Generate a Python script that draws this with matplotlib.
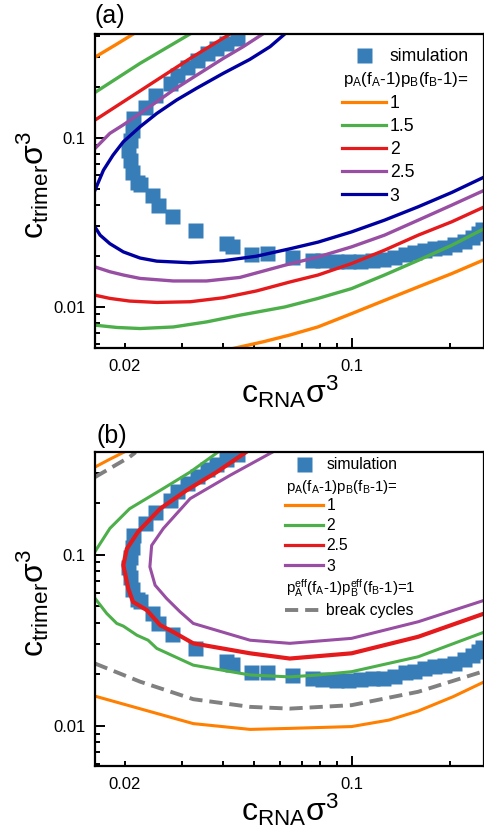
"""Phase boundaries in the (c_RNA, c_trimer) plane: theory curves vs simulation."""

import matplotlib

matplotlib.use("Agg")
import matplotlib.pyplot as plt
import numpy as np
from matplotlib.lines import Line2D
from matplotlib.ticker import FixedLocator, FuncFormatter, LogLocator, NullFormatter

# -- palette ---------------------------------------------------------------
ORANGE = "#FF7F00"
GREEN = "#4DAF4A"
RED = "#E41A1C"
PURPLE = "#984EA3"
NAVY = "#0000A0"
GRAY = "#808080"
SIM_BLUE = "#377EB8"

plt.rcParams.update({
    "font.family": ["Liberation Sans", "DejaVu Sans"],
    "mathtext.fontset": "custom",
    "mathtext.rm": "Liberation Sans",
    "mathtext.it": "Liberation Sans:italic",
    "mathtext.bf": "Liberation Sans:bold",
    "axes.linewidth": 1.6,
    "lines.scale_dashes": False,
    "figure.facecolor": "white",
})

# -- simulation (same data in both panels) ---------------------------------
sim_x = [0.0442, 0.0411, 0.0383, 0.0357, 0.0333, 0.0310, 0.0289, 0.0276, 0.0248,
         0.0231, 0.0212, 0.0210, 0.0207, 0.0205, 0.0207, 0.0210, 0.0218, 0.0223,
         0.0242, 0.0254, 0.0279, 0.0329, 0.0409, 0.0429, 0.0491, 0.0547, 0.0652,
         0.0753, 0.0809, 0.0893, 0.0972, 0.106, 0.115, 0.125, 0.135, 0.146, 0.155,
         0.167, 0.179, 0.192, 0.206, 0.221, 0.234, 0.244, 0.251]
sim_y = [0.386, 0.361, 0.337, 0.315, 0.288, 0.263, 0.234, 0.209, 0.178,
         0.152, 0.130, 0.111, 0.0966, 0.0843, 0.0736, 0.0628, 0.0547, 0.0535,
         0.0457, 0.0399, 0.0343, 0.0286, 0.0239, 0.0228, 0.0205, 0.0207, 0.0197,
         0.0190, 0.0188, 0.0186, 0.0186, 0.0187, 0.0190, 0.0191, 0.0196, 0.0205, 0.0210,
         0.0217, 0.0222, 0.0226, 0.0234, 0.0244, 0.0258, 0.0272, 0.0290]

# -- panel (a): p_A(f_A-1)p_B(f_B-1) = 1, 1.5, 2, 2.5, 3 ----------------------
a_labels = ["1", "1.5", "2", "2.5", "3"]
a_colors = [ORANGE, GREEN, RED, PURPLE, NAVY]

a_upper_x = [
    [0.0160, 0.0188, 0.0216],
    [0.0162, 0.0223, 0.0321],
    [0.0162, 0.0198, 0.0251, 0.0318, 0.0426],
    [0.0162, 0.0180, 0.0198, 0.0223, 0.0251, 0.0282, 0.0333, 0.0402, 0.0463, 0.0537],
    [0.0162, 0.0172, 0.0184, 0.0198, 0.0223, 0.0251, 0.0289, 0.0333, 0.0402,
     0.0485, 0.0560, 0.0626],
]
a_upper_y = [
    [0.295, 0.355, 0.418],
    [0.185, 0.275, 0.415],
    [0.127, 0.163, 0.219, 0.294, 0.415],
    [0.0863, 0.106, 0.119, 0.139, 0.163, 0.191, 0.234, 0.294, 0.345, 0.415],
    [0.0489, 0.0642, 0.0787, 0.0945, 0.116, 0.139, 0.167, 0.196, 0.240,
     0.290, 0.345, 0.415],
]
a_lower_x = [
    [0.0420, 0.0533, 0.0644, 0.0787, 0.0998, 0.126, 0.160, 0.203, 0.256],
    [0.0162, 0.0189, 0.0223, 0.0282, 0.0357, 0.0452, 0.0622, 0.0787, 0.0998,
     0.126, 0.160, 0.203, 0.256],
    [0.0162, 0.0180, 0.0207, 0.0251, 0.0318, 0.0402, 0.0509, 0.0644, 0.0787,
     0.0998, 0.126, 0.160, 0.203, 0.256],
    [0.0162, 0.0180, 0.0198, 0.0223, 0.0282, 0.0357, 0.0452, 0.0622, 0.0787,
     0.0998, 0.126, 0.160, 0.203, 0.256],
    [0.0162, 0.0168, 0.0180, 0.0198, 0.0223, 0.0251, 0.0318, 0.0402, 0.0509,
     0.0644, 0.0787, 0.0998, 0.126, 0.160, 0.203, 0.256],
]
a_lower_y = [
    [0.0056, 0.0062, 0.0068, 0.0076, 0.0091, 0.0109, 0.0131, 0.0157, 0.0190],
    [0.00778, 0.00754, 0.00743, 0.00759, 0.00813, 0.00891, 0.00997, 0.0112, 0.0128,
     0.0154, 0.0188, 0.0231, 0.0290],
    [0.0117, 0.0112, 0.0108, 0.0106, 0.0107, 0.0113, 0.0124, 0.0140, 0.0154,
     0.0180, 0.0216, 0.0265, 0.0318, 0.0390],
    [0.0172, 0.0161, 0.0154, 0.0147, 0.0142, 0.0142, 0.0149, 0.0176, 0.0197,
     0.0226, 0.0265, 0.0325, 0.0399, 0.0489],
    [0.0296, 0.0265, 0.0236, 0.0211, 0.0194, 0.0186, 0.0182, 0.0187, 0.0199,
     0.0220, 0.0241, 0.0277, 0.0325, 0.0390, 0.0474, 0.0586],
]

# -- panel (b): 1, 2, 2.5, 3 plus the "break cycles" criterion --------------
b_labels = ["1", "2", "2.5", "3"]
b_colors = [ORANGE, GREEN, RED, PURPLE]
b_widths = [2.2, 2.2, 3.0, 2.2]

b_upper_x = [
    [0.0160, 0.0180, 0.0201],
    [0.0162, 0.0180, 0.0207, 0.0263, 0.0318, 0.0390],
    [],
    [],
]
b_upper_y = [
    [0.320, 0.360, 0.400],
    [0.104, 0.142, 0.185, 0.243, 0.303, 0.400],
    [],
    [],
]
b_lower_x = [
    [0.0162, 0.0325, 0.0486, 0.0644, 0.0998, 0.130, 0.160, 0.205, 0.256],
    [0.0162, 0.0176, 0.0189, 0.0198, 0.0218, 0.0236, 0.0251, 0.0325, 0.0486,
     0.0644, 0.0786, 0.0998, 0.160, 0.256],
    [0.0476, 0.0384, 0.0310, 0.0257, 0.0220, 0.0203, 0.0198, 0.0205, 0.0212,
     0.0234, 0.0242, 0.0257, 0.0282, 0.0325, 0.0486, 0.0644, 0.0998, 0.160, 0.256],
    [0.0575, 0.0422, 0.0318, 0.0263, 0.0242, 0.0239, 0.0248, 0.0269, 0.0296,
     0.0325, 0.0486, 0.0644, 0.0998, 0.160, 0.256],
]
b_lower_y = [
    [0.0149, 0.0103, 0.00953, 0.00966, 0.00990, 0.0108, 0.0122, 0.0148, 0.0181],
    [0.0555, 0.0453, 0.0396, 0.0382, 0.0338, 0.0316, 0.0283, 0.0226, 0.0198,
     0.0193, 0.0198, 0.0207, 0.0253, 0.0353],
    [0.400, 0.303, 0.237, 0.185, 0.136, 0.108, 0.0867, 0.0633, 0.0529,
     0.0473, 0.0440, 0.0387, 0.0353, 0.0303, 0.0265, 0.0247, 0.0265, 0.0331, 0.0453],
    [0.400, 0.290, 0.212, 0.142, 0.113, 0.0847, 0.0662, 0.0554, 0.0463,
     0.0396, 0.0316, 0.0303, 0.0324, 0.0405, 0.0541],
]

break_upper_x = [0.0162, 0.0207, 0.0216]
break_upper_y = [0.283, 0.371, 0.395]
break_lower_x = [0.0162, 0.0223, 0.0325, 0.0486, 0.0644, 0.0998, 0.160, 0.248]
break_lower_y = [0.0231, 0.0181, 0.0143, 0.0129, 0.0126, 0.0132, 0.0158, 0.0205]

# -- axes / text -------------------------------------------------------------
X_LIM = (0.0162, 0.255)
A_YLIM = (0.0057, 0.41)
B_YLIM = (0.00585, 0.395)
XLABEL = r"$\mathregular{c_{RNA}σ^3}$"
YLABEL = r"$\mathregular{c_{trimer}σ^3}$"
HEADER = r"$\mathregular{p_A(f_A\text{-}1)p_B(f_B\text{-}1)}$="
HEADER_EFF = r"$\mathregular{p_A^{eff}(f_A\text{-}1)p_B^{eff}(f_B\text{-}1)}$=1"
BREAK_DASH = (9.5, 5.0)


def _x_minor_label(v, _pos):
    return "0.02" if abs(v - 0.02) < 1e-9 else ""


def _style(ax, ylim):
    ax.set_xscale("log")
    ax.set_yscale("log")
    ax.set_xlim(*X_LIM)
    ax.set_ylim(*ylim)
    ax.xaxis.set_major_locator(FixedLocator([0.1]))
    ax.xaxis.set_major_formatter(FuncFormatter(lambda v, p: "0.1"))
    ax.xaxis.set_minor_locator(LogLocator(base=10, subs=np.arange(2, 10)))
    ax.xaxis.set_minor_formatter(FuncFormatter(_x_minor_label))
    ax.yaxis.set_major_locator(FixedLocator([0.01, 0.1]))
    ax.yaxis.set_major_formatter(FuncFormatter(lambda v, p: f"{v:g}"))
    ax.yaxis.set_minor_locator(LogLocator(base=10, subs=np.arange(2, 10)))
    ax.yaxis.set_minor_formatter(NullFormatter())
    ax.tick_params(which="both", direction="in", top=False, right=False,
                   width=1.4, labelsize=12)
    ax.tick_params(which="major", length=7)
    ax.tick_params(which="minor", length=3.5)
    ax.tick_params(axis="x", which="both", pad=8)
    ax.tick_params(axis="y", which="both", pad=7)
    ax.set_xlabel(XLABEL, fontsize=23)
    ax.set_ylabel(YLABEL, fontsize=23)
    ax.xaxis.set_label_coords(0.5, -0.082)
    ax.yaxis.set_label_coords(-0.112, 0.52)


def _sim(ax):
    ax.plot(sim_x, sim_y, ls="none", marker="s", ms=10.8, color=SIM_BLUE,
            mec="none", zorder=1)


def _sim_handle():
    return Line2D([], [], ls="none", marker="s", ms=10.8, color=SIM_BLUE, mec="none")


LEG_KW = dict(loc="upper left", frameon=False, borderpad=0, borderaxespad=0,
              handletextpad=0.2)

fig = plt.figure(figsize=(4.85, 8.3), dpi=100)
ax_a = fig.add_axes([95 / 485, 1 - 348 / 830, 389 / 485, 314 / 830])
ax_b = fig.add_axes([95 / 485, 1 - 765.7 / 830, 389 / 485, 313.4 / 830])

# panel (a)
_sim(ax_a)
for ux, uy, lx, ly, c in zip(a_upper_x, a_upper_y, a_lower_x, a_lower_y, a_colors):
    ax_a.plot(ux, uy, color=c, lw=2.4, zorder=2)
    ax_a.plot(lx, ly, color=c, lw=2.4, zorder=2)
_style(ax_a, A_YLIM)
ax_a.text(0.0, 1.035, "(a)", transform=ax_a.transAxes, fontsize=18, va="baseline")

leg = ax_a.legend([_sim_handle()], ["simulation"], bbox_to_anchor=(0.635, 0.955),
                  handlelength=2.5, fontsize=12.7, **LEG_KW)
ax_a.add_artist(leg)
ax_a.text(0.6375, 0.854, HEADER, transform=ax_a.transAxes, fontsize=12.2,
          va="center", ha="left")
ax_a.legend([Line2D([], [], color=c, lw=2.3) for c in a_colors], a_labels,
            bbox_to_anchor=(0.635, 0.806), handlelength=2.5, labelspacing=0.35,
            fontsize=12.7, **LEG_KW)

# panel (b)
_sim(ax_b)
for ux, uy, lx, ly, c, w in zip(b_upper_x, b_upper_y, b_lower_x, b_lower_y,
                                b_colors, b_widths):
    if ux:
        ax_b.plot(ux, uy, color=c, lw=w, zorder=2)
    ax_b.plot(lx, ly, color=c, lw=w, zorder=2)
ax_b.plot(break_upper_x, break_upper_y, color=GRAY, lw=2.8, dashes=BREAK_DASH, zorder=2)
ax_b.plot(break_lower_x, break_lower_y, color=GRAY, lw=2.8, dashes=BREAK_DASH, zorder=2)
_style(ax_b, B_YLIM)
ax_b.text(0.005, 1.029, "(b)", transform=ax_b.transAxes, fontsize=18, va="baseline")

leg = ax_b.legend([_sim_handle()], ["simulation"], bbox_to_anchor=(0.488, 0.984),
                  handlelength=2.45, fontsize=11.3, **LEG_KW)
ax_b.add_artist(leg)
ax_b.text(0.491, 0.890, HEADER, transform=ax_b.transAxes, fontsize=10.8,
          va="center", ha="left")
leg = ax_b.legend([Line2D([], [], color=c, lw=2.3) for c in b_colors], b_labels,
                  bbox_to_anchor=(0.488, 0.854), handlelength=2.45, labelspacing=0.33,
                  fontsize=11.3, **LEG_KW)
ax_b.add_artist(leg)
ax_b.text(0.491, 0.566, HEADER_EFF, transform=ax_b.transAxes, fontsize=10.8,
          va="center", ha="left")
ax_b.legend([Line2D([], [], color=GRAY, lw=2.8, dashes=BREAK_DASH)], ["break cycles"],
            bbox_to_anchor=(0.488, 0.519), handlelength=2.45, fontsize=11.3, **LEG_KW)

fig.savefig("out.png", dpi=100)
